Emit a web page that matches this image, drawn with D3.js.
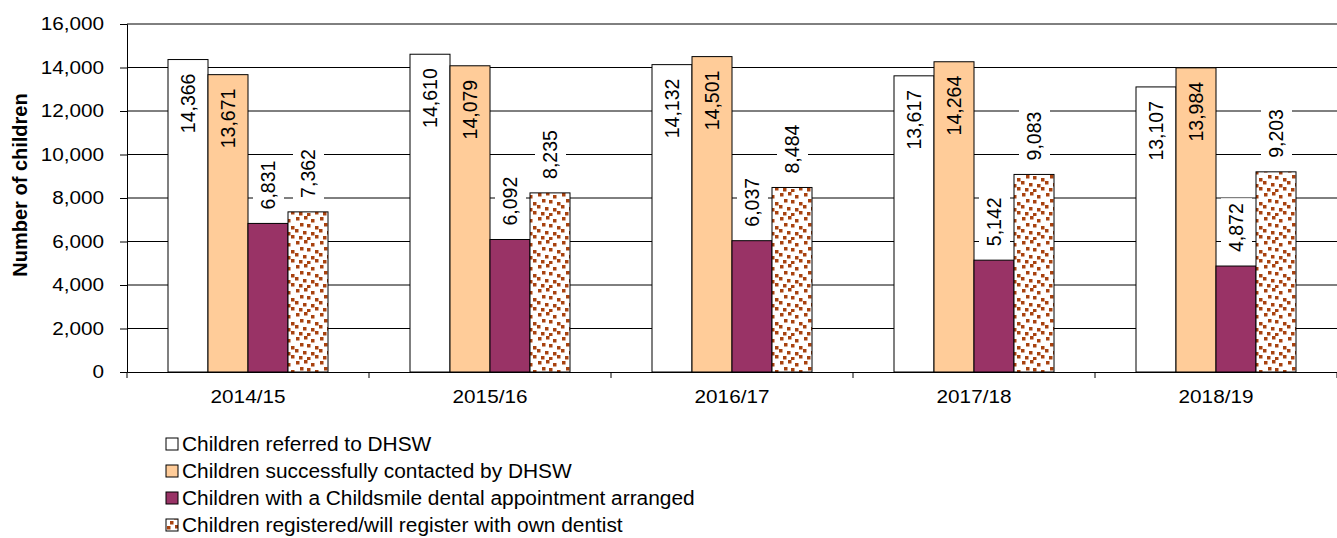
<!DOCTYPE html>
<html>
<head>
<meta charset="utf-8">
<script src="https://cdn.jsdelivr.net/npm/d3@7"></script>
<style>
  body { margin: 0; background: #fff; }
  svg { display: block; font-family: "Liberation Sans", Arial, sans-serif; }
</style>
</head>
<body>
<svg width="1337" height="538"></svg>
<script>
const years = ["2014/15", "2015/16", "2016/17", "2017/18", "2018/19"];
const seriesNames = [
  "Children referred to DHSW",
  "Children successfully contacted by DHSW",
  "Children with a Childsmile dental appointment arranged",
  "Children registered/will register with own dentist"
];
const referred = [14366, 14610, 14132, 13617, 13107];
const contacted = [13671, 14079, 14501, 14264, 13984];
const appointment = [6831, 6092, 6037, 5142, 4872];
const registered = [7362, 8235, 8484, 9083, 9203];
const yTicks = [0, 2000, 4000, 6000, 8000, 10000, 12000, 14000, 16000];

const series = [referred, contacted, appointment, registered];
const fills = ["#ffffff", "#ffcc99", "#993366", "url(#confetti)"];

const svg = d3.select("svg");

// stretch text a bit wider, the original chart is squeezed vertically
function stretch(sel, k) {
  sel.each(function () {
    const w = this.getComputedTextLength();
    d3.select(this).attr("textLength", w * k).attr("lengthAdjust", "spacingAndGlyphs");
  });
}

// confetti pattern
const defs = svg.append("defs");
const pat = defs.append("pattern")
  .attr("id", "confetti")
  .attr("patternUnits", "userSpaceOnUse")
  .attr("width", 24).attr("height", 24);
pat.append("rect").attr("width", 24).attr("height", 24).attr("fill", "#fff");
const dots = [[1, 1], [9, 0], [16, 3], [5, 7], [12, 8], [20, 10], [0, 13], [8, 15], [16, 16], [4, 20], [12, 21], [20, 19]];
pat.selectAll("rect.d").data(dots).join("rect")
  .attr("class", "d")
  .attr("x", d => d[0]).attr("y", d => d[1])
  .attr("width", 3.5).attr("height", 3.5)
  .attr("fill", "#a8420f");

const x = d3.scaleBand().domain(years).range([127, 1337]);
const inner = d3.scaleBand().domain(d3.range(4)).range([41, 201]);
const y = d3.scaleLinear().domain([0, 16000]).range([372, 24]);

// gridlines
svg.append("g")
  .selectAll("line")
  .data(yTicks.slice(1))
  .join("line")
  .attr("x1", 127).attr("x2", 1337)
  .attr("y1", d => y(d)).attr("y2", d => y(d))
  .attr("stroke", "#000").attr("stroke-width", 1);

// bars
const groups = svg.append("g")
  .selectAll("g")
  .data(years)
  .join("g")
  .attr("transform", d => `translate(${x(d)},0)`);

groups.selectAll("rect")
  .data((d, i) => series.map((s, j) => ({ j, v: s[i] })))
  .join("rect")
  .attr("x", d => inner(d.j))
  .attr("width", inner.bandwidth())
  .attr("y", d => y(d.v))
  .attr("height", d => y(0) - y(d.v))
  .attr("fill", d => fills[d.j])
  .attr("stroke", "#000")
  .attr("stroke-width", 1);

// value labels
const labels = groups.selectAll("g.lab")
  .data((d, i) => series.map((s, j) => ({ j, v: s[i] })))
  .join("g")
  .attr("class", "lab");

labels.each(function (d) {
  const g = d3.select(this);
  const cx = inner(d.j) + inner.bandwidth() / 2;
  const inside = d.v > 12000;
  const t = g.append("text")
    .attr("transform", `translate(${cx},${inside ? y(d.v) + 14 : y(d.v) - 14}) rotate(-90)`)
    .attr("text-anchor", inside ? "end" : "start")
    .attr("dy", "0.35em")
    .attr("font-size", 19.5)
    .attr("fill", "#000")
    .text(d3.format(",")(d.v));
  if (!inside) {
    const len = t.node().getComputedTextLength();
    g.insert("rect", "text")
      .attr("x", cx - 15)
      .attr("width", 31)
      .attr("y", y(d.v) - 14 - len - 5)
      .attr("height", len + 10)
      .attr("fill", "#fff");
  }
});

// y axis
const yAxis = svg.append("g")
  .attr("transform", "translate(127,0)")
  .call(d3.axisLeft(y).tickValues(yTicks).tickSize(7).tickPadding(16).tickFormat(d3.format(",")));
yAxis.select(".domain").attr("stroke", "#000").attr("stroke-width", 1);
yAxis.selectAll(".tick line").attr("stroke", "#000");
yAxis.selectAll(".tick text")
  .attr("font-size", 18).attr("fill", "#000").attr("font-family", null)
  .call(stretch, 1.15);

// x axis
const xAxis = svg.append("g")
  .attr("transform", "translate(0,372)")
  .call(d3.axisBottom(x).tickSize(0).tickPadding(18));
xAxis.select(".domain").attr("stroke", "#000").attr("stroke-width", 1);
xAxis.selectAll(".tick text")
  .attr("font-size", 18).attr("fill", "#000").attr("font-family", null)
  .call(stretch, 1.15);
xAxis.selectAll("line.bound")
  .data(years.map(d => x(d)).concat([x.range()[1]]))
  .join("line")
  .attr("class", "bound")
  .attr("x1", d => d).attr("x2", d => d)
  .attr("y1", 0).attr("y2", 6)
  .attr("stroke", "#000");

// y title
svg.append("text")
  .attr("transform", `translate(27,${185}) rotate(-90)`)
  .attr("text-anchor", "middle")
  .attr("font-size", 20)
  .attr("font-weight", "bold")
  .text("Number of children");

// legend
const legend = svg.append("g")
  .selectAll("g")
  .data(seriesNames)
  .join("g")
  .attr("transform", (d, i) => `translate(166,${444 + i * 27})`);
legend.append("rect")
  .attr("x", 0).attr("y", -6)
  .attr("width", 12).attr("height", 12)
  .attr("fill", (d, i) => fills[i])
  .attr("stroke", "#000");
legend.append("text")
  .attr("x", 16)
  .attr("dy", "0.36em")
  .attr("font-size", 19.5)
  .text(d => d)
  .call(stretch, 1.07);
</script>
</body>
</html>
